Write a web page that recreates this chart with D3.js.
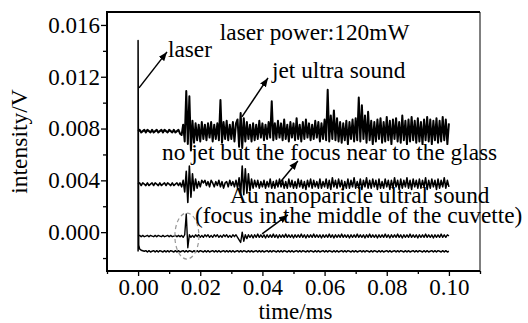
<!DOCTYPE html>
<html>
<head>
<meta charset="utf-8">
<script src="https://cdn.jsdelivr.net/npm/d3@7"></script>
<style>
body { margin: 0; background: #fff; }
svg text { font-family: "Liberation Serif", "Times New Roman", serif; fill: #000; }
</style>
</head>
<body>
<div id="chart"></div>
<script>
// traces sampled from 0 to 0.1 ms, one sample every 0.0005 ms
let sampleStep = 0.0005;

// jet ultra sound, offsets from baseline in 1e-4 V
let jetBase = 0.0078;
let jetNoise = [
  0,1,-1,0,1,-1,1,0,-1,1,-1,0,1,-1,0,1,-1,1,0,-1,
  1,0,-1,1,-1,0,1,-2,-3,5,-8,31,-10,27,-15,8,-9,6,-7,5,
  -8,7,-6,5,-7,6,-5,7,-8,5,-6,6,-7,24,-9,7,-6,8,-7,5,
  -6,7,-8,6,9,-12,14,-13,10,-8,7,-6,5,-8,6,-7,5,-6,8,-5,
  6,-7,5,-6,7,-5,23,-7,6,-6,8,-5,6,-7,9,-6,5,-8,7,-5,
  6,-7,10,-6,5,-8,7,-6,9,-5,6,-7,5,-6,8,-5,7,-8,6,-6,
  9,-7,32,-8,12,-6,16,-7,10,-8,7,-9,6,-7,8,-10,7,-6,9,-8,
  10,-7,26,-8,20,-6,12,-9,15,-7,8,-10,7,-8,9,-6,10,-9,7,-8,
  11,-7,8,-10,9,-6,10,-8,7,-9,12,-7,8,-10,9,-8,11,-7,8,-9,
  10,-8,7,-10,9,-7,11,-8,9,-10,8,-7,10,-9,8,-8,11,-7,9,-10,
  6
];

// no jet, focus near to the glass
let glassBase = 0.0037;
let glassNoise = [
  0,1,-1,1,0,-1,1,-1,0,1,-1,1,0,-1,1,-1,0,1,-1,1,
  0,-1,1,-1,0,1,-1,1,-2,3,-6,10,-14,14,-10,8,-5,4,-3,2,
  -2,3,1,3,-1,2,-2,3,1,-2,2,-1,3,-2,2,-3,1,2,-2,3,
  -1,2,-2,3,-3,5,-8,14,-8,12,-7,8,-5,4,-3,3,-2,3,-3,2,
  -2,3,-3,2,-2,4,-3,2,-3,3,-2,4,-2,3,-3,2,-3,4,-2,3,
  -3,2,-3,4,-2,3,-3,2,-4,3,-2,4,-3,3,-2,2,-3,4,-3,2,
  -2,4,-3,3,-4,5,-2,3,-3,4,-2,3,-4,2,-3,4,-3,3,-2,5,
  -3,2,-3,4,-4,3,-2,5,-3,3,-3,4,-2,3,-4,4,-3,2,-3,4,
  -2,3,-4,3,-3,5,-2,3,-4,4,-3,3,-2,5,-3,3,-4,4,-2,3,
  -3,4,-3,3,-2,5,-4,3,-3,4,-2,3,-4,4,-3,3,-2,5,-3,3,
  -2
];

// Au nanoparticle, focus in the middle of the cuvette
let auBase = -0.0003;
let auNoise = [
  0,0.5,-0.5,0.5,-0.5,0,0.5,-0.5,0.5,0,-0.5,0.5,-0.5,0.5,0,-0.5,0.5,-0.5,0,0.5,
  -0.5,0.5,-0.5,0,0.5,-0.5,0.5,-0.5,0.5,-1,1,17,-9,1,-1,0.5,-1,1,-0.5,1,
  -1,0.5,-1,1,-0.5,1,-1,0.5,-1,1,-0.5,1,-1,0.5,-1,1,-0.5,1,-1,0.5,
  -1,1,-0.5,1,-1,-3,-5,3,-4,1,-2,1,-1,1,-1.5,1,-1,1.5,-1,1,
  -1,1,-1.5,1,-1,1,-1,1.5,-1,1,-1.5,1,-1,1,-1,1.5,-1,1,-1,1,
  -1.5,1,-1,1,-1,1.5,-1,1,-1.5,1,-1,1,-1,1.5,-1,1,-1,1,-1.5,1,
  -1,1,-1,1.5,-1,1,-1.5,1,-1,1,-1,1.5,-1,1,-1,1,-1.5,1,-1,1,
  -1,1.5,-1,1,-1,1,-1.5,1,-1,1.5,-1,1,-1,1,-1.5,1,-1,1,-1,1.5,
  -1,1,-1.5,1,-1,1,-1,1.5,-1,1,-1.5,1,-1,1,-1,1.5,-1,1,-1,1,
  -1.5,1,-1,1,-1,1.5,-1,1,-1,1,-1.5,1,-1,1,-1,1.5,-1,1,-1,1,
  0
];

// laser: spike at t = 0 then a fast decay
let laserHeadT = [0, 0, 0.0002, 0.0005, 0.001, 0.002];
let laserHeadV = [-0.0015, 0.0148, -0.0010, -0.0013, -0.0014, -0.00148];
let laserBase = -0.00148;
let laserNoise = [
  0,0,0,0,0,0.5,-0.5,0.5,-0.5,0,0.5,-0.5,0.5,-0.5,0.5,0,-0.5,0.5,-0.5,0.5,
  -0.5,0.5,0,-0.5,0.5,-0.5,0.5,-0.5,0,0.5,-0.5,0.5,-0.5,0.5,0,-0.5,0.5,-0.5,0.5,-0.5,
  0.5,0,-0.5,0.5,-0.5,0.5,-0.5,0,0.5,-0.5,0.5,-0.5,0.5,-0.5,0,0.5,-0.5,0.5,-0.5,0.5,
  -0.5,0.5,-0.5,0,0.5,-0.5,0.5,-0.5,0.5,0,-0.5,0.5,-0.5,0.5,-0.5,0,0.5,-0.5,0.5,-0.5,
  0.5,-0.5,0,0.5,-0.5,0.5,-0.5,0.5,0,-0.5,0.5,-0.5,0.5,-0.5,0.5,0,-0.5,0.5,-0.5,0.5,
  -0.5,0,0.5,-0.5,0.5,-0.5,0.5,0,-0.5,0.5,-0.5,0.5,0,-0.5,0.5,-0.5,0.5,-0.5,0,0.5,
  -0.5,0.5,-0.5,0.5,0,-0.5,0.5,-0.5,0.5,-0.5,0,0.5,-0.5,0.5,-0.5,0.5,0,-0.5,0.5,-0.5,
  0.5,-0.5,0,0.5,-0.5,0.5,-0.5,0.5,0,-0.5,0.5,-0.5,0.5,0,-0.5,0.5,-0.5,0.5,-0.5,0,
  0.5,-0.5,0.5,-0.5,0,0.5,-0.5,0.5,-0.5,0.5,0,-0.5,0.5,-0.5,0.5,-0.5,0,0.5,-0.5,0.5,
  -0.5,0.5,0,-0.5,0.5,-0.5,0.5,-0.5,0,0.5,-0.5,0.5,-0.5,0.5,0,-0.5,0.5,-0.5,0.5,-0.5,
  0
];

// axis ticks
let xMajor = [0.00, 0.02, 0.04, 0.06, 0.08, 0.10];
let xMinor = [-0.01, 0.01, 0.03, 0.05, 0.07, 0.09, 0.11];
let yMajor = [0.000, 0.004, 0.008, 0.012, 0.016];
let yMinor = [-0.002, 0.002, 0.006, 0.010, 0.014];

// annotations [t, V]
let notes = [
  {text: "laser power:120mW", t: 0.0263, v: 0.01484},
  {text: "laser", t: 0.0096, v: 0.01353},
  {text: "jet ultra sound", t: 0.0431, v: 0.01191},
  {text: "no jet but the focus near to the glass", t: 0.0077, v: 0.00558},
  {text: "Au nanoparicle ultral sound", t: 0.0296, v: 0.00225},
  {text: "(focus in the middle of the cuvette)", t: 0.0183, v: 0.00071}
];
let arrows = [
  {t0: 0.0003, v0: 0.01114, t1: 0.0093, v1: 0.01392},
  {t0: 0.0334, v0: 0.00890, t1: 0.0418, v1: 0.01191},
  {t0: 0.0447, v0: 0.00357, t1: 0.0514, v1: 0.00550},
  {t0: 0.0399, v0: -0.00014, t1: 0.0482, v1: 0.00133}
];
let circled = {t: 0.0157, v: -0.0003};

let width = 528;
let height = 323;
const margin = {top: 12, right: 48, bottom: 52, left: 107};

let svg = d3.select("#chart").append("svg")
  .attr("width", width)
  .attr("height", height);

let x = d3.scaleLinear()
  .domain([-0.01, 0.11])
  .range([margin.left, width - margin.right]);

let y = d3.scaleLinear()
  .domain([-0.003, 0.017])
  .range([height - margin.bottom, margin.top]);

let toSeries = (base, noise) => noise.map((d, i) => ({t: i * sampleStep, v: base + d * 1e-4}));

let laser = laserHeadT.map((t, i) => ({t: t, v: laserHeadV[i]}))
  .concat(toSeries(laserBase, laserNoise).filter((d, i) => i >= 5));

let traces = [
  {data: toSeries(jetBase, jetNoise), w: 2},
  {data: toSeries(glassBase, glassNoise), w: 1.6},
  {data: toSeries(auBase, auNoise), w: 1.4},
  {data: laser, w: 1.5}
];

let line = d3.line().x(d => x(d.t)).y(d => y(d.v));

svg.selectAll("path.trace")
  .data(traces)
  .enter()
  .append("path")
  .attr("class", "trace")
  .attr("d", d => line(d.data))
  .attr("fill", "none")
  .attr("stroke", "#000")
  .attr("stroke-width", d => d.w)
  .attr("stroke-linejoin", "round");

// axes
let yAxis = d3.axisLeft(y).tickValues(yMajor).tickSize(6).tickPadding(1)
  .tickFormat(d3.format(".3f"));
let yAxisMinor = d3.axisLeft(y).tickValues(yMinor).tickSize(4).tickFormat("");
let xAxis = d3.axisBottom(x).tickValues(xMajor).tickSize(5).tickPadding(3)
  .tickFormat(d3.format(".2f"));
let xAxisMinor = d3.axisBottom(x).tickValues(xMinor).tickSize(3).tickFormat("");

[yAxis, yAxisMinor].forEach(a => {
  svg.append("g")
    .attr("transform", `translate(${margin.left},0)`)
    .call(a)
    .call(g => g.select(".domain").remove());
});
[xAxis, xAxisMinor].forEach(a => {
  svg.append("g")
    .attr("transform", `translate(0,${height - margin.bottom})`)
    .call(a)
    .call(g => g.select(".domain").remove());
});
svg.selectAll(".tick line").attr("stroke", "#000").attr("stroke-width", 1.3);
svg.selectAll(".tick text")
  .style("font-family", "'Liberation Serif', 'Times New Roman', serif")
  .style("font-size", "23px")
  .attr("fill", "#000");

// frame
let x0 = x.range()[0], x1 = x.range()[1], yb = y.range()[0], yt = y.range()[1];
svg.append("line").attr("x1", x0).attr("x2", x1).attr("y1", yt).attr("y2", yt)
  .attr("stroke", "#000").attr("stroke-width", 2);
svg.append("line").attr("x1", x1).attr("x2", x1).attr("y1", yt).attr("y2", yb)
  .attr("stroke", "#000").attr("stroke-width", 1);
svg.append("line").attr("x1", x0).attr("x2", x0).attr("y1", yt - 1).attr("y2", yb + 1)
  .attr("stroke", "#000").attr("stroke-width", 2);
svg.append("line").attr("x1", x0 - 1).attr("x2", x1).attr("y1", yb).attr("y2", yb)
  .attr("stroke", "#000").attr("stroke-width", 2);

// axis titles
svg.append("text")
  .attr("transform", `translate(27,${(yt + yb) / 2}) rotate(-90)`)
  .style("text-anchor", "middle")
  .style("font-size", "23.5px")
  .text("intensity/V");
svg.append("text")
  .attr("x", (x0 + x1) / 2 + 2)
  .attr("y", height - 4)
  .style("text-anchor", "middle")
  .style("font-size", "23px")
  .text("time/ms");

// dashed circle round the Au spike
svg.append("ellipse")
  .attr("cx", x(circled.t))
  .attr("cy", y(circled.v))
  .attr("rx", 12)
  .attr("ry", 23)
  .attr("fill", "none")
  .attr("stroke", "#999")
  .attr("stroke-width", 1.2)
  .attr("stroke-dasharray", "4,3");

// annotation text
svg.selectAll("text.note")
  .data(notes)
  .enter()
  .append("text")
  .attr("class", "note")
  .attr("x", d => x(d.t))
  .attr("y", d => y(d.v))
  .style("font-size", "23.3px")
  .text(d => d.text);

// arrows
svg.append("defs").append("marker")
  .attr("id", "head")
  .attr("markerUnits", "userSpaceOnUse")
  .attr("markerWidth", 10)
  .attr("markerHeight", 8)
  .attr("refX", 9)
  .attr("refY", 3.5)
  .attr("orient", "auto")
  .append("path")
  .attr("d", "M0,0L9,3.5L0,7Z")
  .attr("fill", "#000");

svg.selectAll("line.arrow")
  .data(arrows)
  .enter()
  .append("line")
  .attr("class", "arrow")
  .attr("x1", d => x(d.t0))
  .attr("y1", d => y(d.v0))
  .attr("x2", d => x(d.t1))
  .attr("y2", d => y(d.v1))
  .attr("stroke", "#000")
  .attr("stroke-width", 1.5)
  .attr("marker-end", "url(#head)");
</script>
</body>
</html>
